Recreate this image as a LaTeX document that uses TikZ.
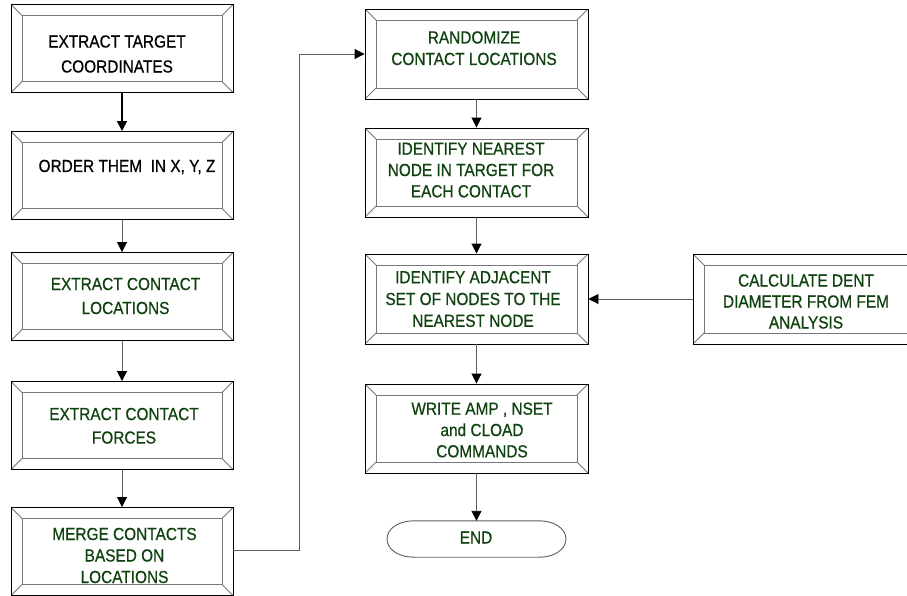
\documentclass[tikz,border=0pt]{standalone}
\usepackage{fontspec}
\setmainfont[FakeStretch=0.88]{Liberation Sans}
\newfontfamily\boxfont[FakeStretch=0.88,FakeBold=0.6]{Liberation Sans}
\usetikzlibrary{arrows.meta}
\definecolor{txtgreen}{RGB}{16,66,16}
\definecolor{bevelgray}{RGB}{120,120,120}
\definecolor{conngray}{RGB}{95,95,95}
\tikzset{
  bevelline/.style={draw=bevelgray, line width=0.8pt},
  bevel/.style={rectangle, draw=black, line width=0.9pt, fill=white,
    minimum width=222pt, minimum height=88pt, inner sep=0pt,
    path picture={
      \path (path picture bounding box.north west) coordinate (pnw)
            (path picture bounding box.south east) coordinate (pse)
            (path picture bounding box.north east) coordinate (pne)
            (path picture bounding box.south west) coordinate (psw);
      \draw[bevelline] ([shift={(11pt,-11pt)}]pnw) rectangle ([shift={(-11pt,11pt)}]pse);
      \draw[bevelline] (pnw) -- ([shift={(11pt,-11pt)}]pnw)
                       (pne) -- ([shift={(-11pt,-11pt)}]pne)
                       (psw) -- ([shift={(11pt,11pt)}]psw)
                       (pse) -- ([shift={(-11pt,11pt)}]pse);
    }},
  txt/.style={align=center, inner sep=0pt, font=\boxfont\fontsize{17.5}{22}\selectfont},
  gtxt/.style={txt, text=txtgreen},
  conn/.style={draw=conngray, line width=0.9pt, -{Triangle[length=10pt,width=10pt,color=black]}},
  connbold/.style={draw=black, line width=1.4pt, -{Triangle[length=10pt,width=10pt,color=black]}},
  endline/.style={draw=conngray, line width=0.9pt}
}
\begin{document}
\begin{tikzpicture}[x=1pt,y=-1pt]
\useasboundingbox (0,0) rectangle (907,595);
\clip (0,0) rectangle (907,595);
\fill[white] (0,0) rectangle (907,595);

% left column
\node[bevel] (L1) at (122,48.5) {};
\node[bevel] (L2) at (122,175.5) {};
\node[bevel] (L3) at (122,296.5) {};
\node[bevel] (L4) at (122,425.5) {};
\node[bevel] (L5) at (122,551.5) {};
% right column
\node[bevel, minimum width=223pt, minimum height=90pt] (R1) at (476.5,54) {};
\node[bevel, minimum width=223pt, minimum height=89pt] (R2) at (476.5,172.5) {};
\node[bevel, minimum width=223pt, minimum height=90pt] (R3) at (476.5,299) {};
\node[bevel, minimum width=223pt, minimum height=89pt] (R4) at (476.5,428.5) {};
\node[bevel, minimum width=260pt, minimum height=90pt] (calc) at (823,299) {};
% terminator
\node[minimum width=181pt, minimum height=36pt, inner sep=0pt] (end) at (476.5,539) {};
\draw[endline] ([xshift=29pt]end.north west) -- ([xshift=-29pt]end.north east)
  .. controls ([xshift=8pt]end.north east) and ([xshift=8pt]end.south east) .. ([xshift=-29pt]end.south east)
  -- ([xshift=29pt]end.south west)
  .. controls ([xshift=-8pt]end.south west) and ([xshift=-8pt]end.north west) .. ([xshift=29pt]end.north west);

% texts
\node[txt, font=\boxfont\fontsize{17.5}{25}\selectfont] (t1) at (117,54) {EXTRACT TARGET\\COORDINATES};
\node[txt] (t2) at (127,167) {ORDER THEM~ IN X, Y, Z};
\node[gtxt, font=\boxfont\fontsize{17.5}{24}\selectfont] (t3) at (125.5,296) {EXTRACT CONTACT\\LOCATIONS};
\node[gtxt, font=\boxfont\fontsize{17.5}{23.5}\selectfont] (t4) at (124,425.8) {EXTRACT CONTACT\\FORCES};
\node[gtxt, font=\boxfont\fontsize{17.5}{21.5}\selectfont] (t5) at (124.5,555.5) {MERGE CONTACTS\\BASED ON\\LOCATIONS};
\node[gtxt, font=\boxfont\fontsize{17.5}{21.5}\selectfont] (tr1) at (474,48.2) {RANDOMIZE\\CONTACT LOCATIONS};
\node[gtxt, font=\boxfont\fontsize{17.5}{21.3}\selectfont] (tr2) at (471,170) {IDENTIFY NEAREST\\NODE IN TARGET FOR\\EACH CONTACT};
\node[gtxt, font=\boxfont\fontsize{17.5}{21.8}\selectfont] (tr3) at (473,299) {IDENTIFY ADJACENT\\SET OF NODES TO THE\\NEAREST NODE};
\node[gtxt, font=\boxfont\fontsize{17.5}{21.3}\selectfont] (tr4) at (482,430) {WRITE AMP , NSET\\and CLOAD\\COMMANDS};
\node[gtxt, font=\boxfont\fontsize{17.5}{21}\selectfont] (tc) at (806,301.5) {CALCULATE DENT\\DIAMETER FROM FEM\\ANALYSIS};
\node[gtxt] (tend) at (476,537.5) {END};

% connectors
\draw[connbold] (L1) -- (L2);
\draw[conn] (L2) -- (L3);
\draw[conn] (L3) -- (L4);
\draw[conn] (L4) -- (L5);
\coordinate (bend) at (299,550.5);
\draw[conn] (L5.east |- bend) -- (bend) |- (R1.west);
\draw[conn] (R1) -- (R2);
\draw[conn] (R2) -- (R3);
\draw[conn] (R3) -- (R4);
\draw[conn] (R4) -- (end);
\draw[conn] (calc.west |- R3) -- (R3);
\end{tikzpicture}
\end{document}
